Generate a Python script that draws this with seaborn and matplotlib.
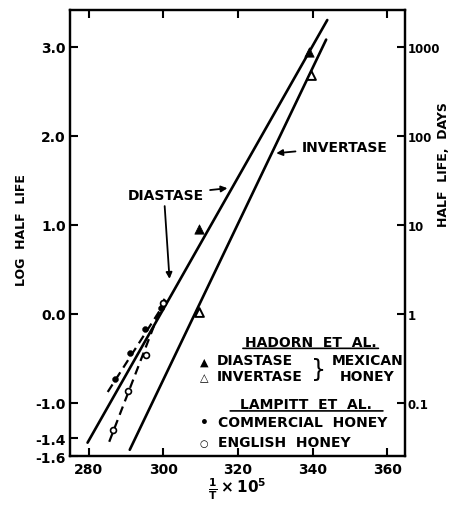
import matplotlib
matplotlib.use("Agg")
import matplotlib.pyplot as plt
import seaborn as sns
import numpy as np

# ---- data ----
# fitted lines (end points)
diastase_line_x = [279.7, 343.9]
diastase_line_y = [-1.45, 3.30]
invertase_line_x = [291.0, 343.6]
invertase_line_y = [-1.53, 3.08]
commercial_line_x = [285.1, 300.8]
commercial_line_y = [-0.88, 0.15]
english_line_x = [285.5, 300.6]
english_line_y = [-1.44, 0.20]

# Hadorn et al. points
diastase_x = [309.6, 338.9]
diastase_y = [0.956, 2.94]
invertase_x = [309.6, 339.6]
invertase_y = [0.02, 2.68]
# Lampitt et al. points
commercial_x = [287.1, 291.1, 295.1, 299.3]
commercial_y = [-0.733, -0.445, -0.168, 0.06]
english_x = [286.6, 290.6, 295.3, 300.0]
english_y = [-1.31, -0.87, -0.46, 0.115]

xticks = [280, 300, 320, 340, 360]
yticks = [3.0, 2.0, 1.0, 0.0, -1.0, -1.4, -1.6]
ytick_labels = ["3.0", "2.0", "1.0", "0.0", "-1.0", "-1.4", "-1.6"]
rticks = [3.0, 2.0, 1.0, 0.0, -1.0]
rtick_labels = ["1000", "100", "10", "1", "0.1"]

sns.set_style("ticks")
plt.rcParams["font.family"] = ["DejaVu Sans"]
plt.rcParams["font.weight"] = "bold"
plt.rcParams["axes.unicode_minus"] = False
plt.rcParams["mathtext.default"] = "bf"
for k in ["text.color", "axes.labelcolor", "xtick.color", "ytick.color", "axes.edgecolor"]:
    plt.rcParams[k] = "black"

fig = plt.figure(figsize=(4.52, 5.06), dpi=100)
ax = fig.add_axes([0.1549, 0.0968, 0.741, 0.881])

lw = 1.9
sns.lineplot(x=diastase_line_x, y=diastase_line_y, color="black", lw=lw, ax=ax)
sns.lineplot(x=invertase_line_x, y=invertase_line_y, color="black", lw=lw, ax=ax)
sns.lineplot(x=commercial_line_x, y=commercial_line_y, color="black", lw=1.6,
             linestyle=(0, (4, 2.5)), ax=ax)
sns.lineplot(x=english_line_x, y=english_line_y, color="black", lw=1.6,
             linestyle=(0, (4, 2.5)), ax=ax)

sns.scatterplot(x=diastase_x, y=diastase_y, marker="^", s=45, color="black",
                edgecolor="black", ax=ax, zorder=5)
sns.scatterplot(x=invertase_x, y=invertase_y, marker="^", s=40, facecolor="white",
                edgecolor="black", linewidth=1.4, ax=ax, zorder=5)
sns.scatterplot(x=commercial_x, y=commercial_y, marker="o", s=18, color="black",
                edgecolor="black", ax=ax, zorder=5)
sns.scatterplot(x=english_x, y=english_y, marker="o", s=18, facecolor="white",
                edgecolor="black", linewidth=1.2, ax=ax, zorder=5)

ax.set_xlim(275, 364.7)
ax.set_ylim(-1.6, 3.41)
ax.set_xticks(xticks)
ax.set_xticklabels([str(t) for t in xticks], fontsize=10, fontweight="bold")
ax.set_yticks(yticks)
ax.set_yticklabels(ytick_labels, fontsize=10, fontweight="bold")
ax.tick_params(direction="in", length=6, width=1.5, top=True, pad=3)
ax.tick_params(axis="x", pad=4)
for s in ax.spines.values():
    s.set_linewidth(1.6)
    s.set_color("black")

ax2 = ax.twinx()
ax2.set_ylim(ax.get_ylim())
ax2.set_yticks(rticks)
ax2.set_yticklabels(rtick_labels, fontsize=8.5, fontweight="bold")
ax2.tick_params(direction="in", length=6, width=1.5, pad=2)
for s in ax2.spines.values():
    s.set_linewidth(1.6)
    s.set_color("black")

ax.set_ylabel("LOG  HALF  LIFE", fontsize=9, fontweight="bold")
ax.yaxis.set_label_coords(-0.125, 0.51)
ax2.set_ylabel("HALF  LIFE,  DAYS", fontsize=9, fontweight="bold", rotation=90)
ax2.yaxis.set_label_coords(1.097, 0.655)
ax.set_xlabel(r"$\frac{1}{T}\times 10^{5}$", fontsize=11, labelpad=0)

# annotations
arrow = dict(arrowstyle="-|>", color="black", lw=1.3, mutation_scale=9)
ax.annotate("DIASTASE", xy=(317.9, 1.413), xytext=(300.7, 1.337), fontsize=10,
            fontweight="bold", ha="center", va="center", arrowprops=arrow)
ax.annotate("", xy=(301.7, 0.36), xytext=(300.3, 1.24), arrowprops=arrow)
ax.annotate("INVERTASE", xy=(329.5, 1.80), xytext=(348.5, 1.875), fontsize=10,
            fontweight="bold", ha="center", va="center", arrowprops=arrow)

fs = 10
ul = dict(arrowstyle="-", lw=1.2, color="black", shrinkA=0, shrinkB=0)
ax.text(339.5, -0.359, "HADORN  ET  AL.", fontsize=fs, ha="center", va="baseline")
ax.annotate("", xy=(321.3, -0.39), xytext=(357.6, -0.39), arrowprops=ul)
ax.text(310.9, -0.568, "▲", fontsize=8, ha="center", va="baseline")
ax.text(314.4, -0.568, "DIASTASE", fontsize=fs, ha="left", va="baseline")
ax.text(310.9, -0.751, "△", fontsize=8, ha="center", va="baseline")
ax.text(314.4, -0.751, "INVERTASE", fontsize=fs, ha="left", va="baseline")
ax.text(341.6, -0.62, "}", fontsize=17, ha="center", va="center", fontweight="normal")
ax.text(345.0, -0.568, "MEXICAN", fontsize=fs, ha="left", va="baseline")
ax.text(354.5, -0.751, "HONEY", fontsize=fs, ha="center", va="baseline")

ax.text(338.3, -1.062, "LAMPITT  ET  AL.", fontsize=fs, ha="center", va="baseline")
ax.annotate("", xy=(317.9, -1.093), xytext=(358.8, -1.093), arrowprops=ul)
ax.text(310.9, -1.26, "•", fontsize=10, ha="center", va="baseline")
ax.text(314.6, -1.26, "COMMERCIAL  HONEY", fontsize=fs, ha="left", va="baseline")
ax.text(310.9, -1.491, "○", fontsize=7, ha="center", va="baseline")
ax.text(314.6, -1.491, "ENGLISH  HONEY", fontsize=fs, ha="left", va="baseline")

fig.savefig("out.png", dpi=100)
